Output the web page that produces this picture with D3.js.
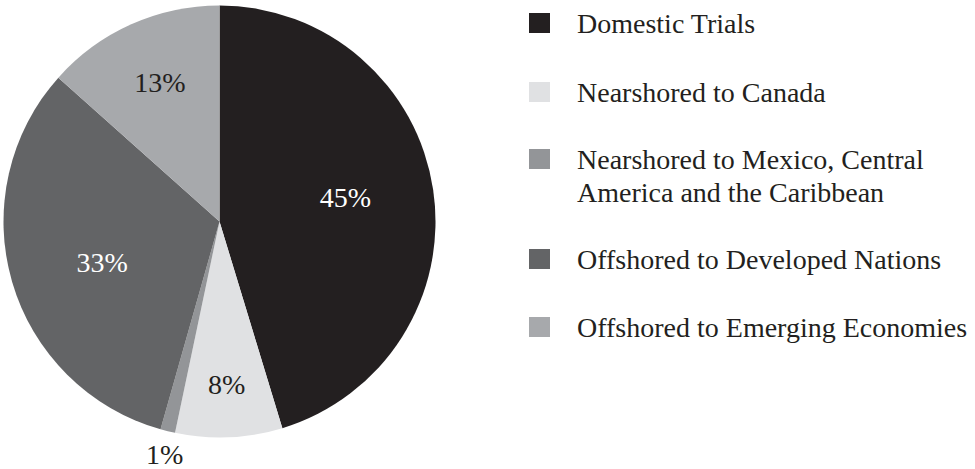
<!DOCTYPE html>
<html>
<head>
<meta charset="utf-8">
<script src="https://cdn.jsdelivr.net/npm/d3@7"></script>
<style>
  html, body { margin: 0; padding: 0; background: #fff; }
  svg { display: block; }
  text { font-family: "Liberation Serif", "Times New Roman", serif; }
</style>
</head>
<body>
<svg id="chart" width="975" height="469"></svg>
<script>
// ---- data ----
const categories = [
  "Domestic Trials",
  "Nearshored to Canada",
  "Nearshored to Mexico, Central America and the Caribbean",
  "Offshored to Developed Nations",
  "Offshored to Emerging Economies"
];
const values = [45.3, 8.0, 1.1, 32.2, 13.4];
const valueLabels = ["45%", "8%", "1%", "33%", "13%"];
const legendLines = [
  ["Domestic Trials"],
  ["Nearshored to Canada"],
  ["Nearshored to Mexico, Central", "America and the Caribbean"],
  ["Offshored to Developed Nations"],
  ["Offshored to Emerging Economies"]
];

// ---- styles ----
const colors = ["#231f20", "#e0e1e3", "#939598", "#636466", "#a7a9ac"];
const labelColors = ["#ffffff", "#231f20", "#231f20", "#ffffff", "#231f20"];
const labelRadiusFactor = [0.594, 0.753, 1.106, 0.575, 0.700];
const labelAngleShiftDeg = [-2.5, 0, -0.6, -2.85, 0.9];

const svg = d3.select("#chart");
const cx = 219.5, cy = 221.5, R = 216;

const pie = d3.pie().sort(null).value(d => d)(values);
const arc = d3.arc().innerRadius(0).outerRadius(R);

const g = svg.append("g").attr("transform", `translate(${cx},${cy})`);
g.selectAll("path.slice")
  .data(pie)
  .join("path")
  .attr("class", "slice")
  .attr("d", arc)
  .attr("fill", (d, i) => colors[i]);

g.selectAll("text.lbl")
  .data(pie)
  .join("text")
  .attr("class", "lbl")
  .attr("transform", (d, i) => {
    const a = (d.startAngle + d.endAngle) / 2 + labelAngleShiftDeg[i] * Math.PI / 180;
    const r = R * labelRadiusFactor[i];
    return `translate(${r * Math.sin(a)},${-r * Math.cos(a)})`;
  })
  .attr("text-anchor", "middle")
  .attr("dy", "0.34em")
  .attr("font-size", 28)
  .attr("fill", (d, i) => labelColors[i])
  .text((d, i) => valueLabels[i]);

// ---- legend ----
const legendX = 529, textX = 577;
const rowBaselines = [33, 102, 169, 269, 337];
const lineH = 33;
const leg = svg.append("g");
categories.forEach((c, i) => {
  leg.append("rect")
    .attr("x", legendX)
    .attr("y", rowBaselines[i] - 20)
    .attr("width", 21)
    .attr("height", 20)
    .attr("fill", colors[i]);
  const t = leg.append("text")
    .attr("x", textX)
    .attr("y", rowBaselines[i])
    .attr("font-size", 28)
    .attr("fill", "#231f20");
  legendLines[i].forEach((ln, j) => {
    t.append("tspan").attr("x", textX).attr("dy", j === 0 ? 0 : lineH).text(ln);
  });
});
</script>
</body>
</html>
